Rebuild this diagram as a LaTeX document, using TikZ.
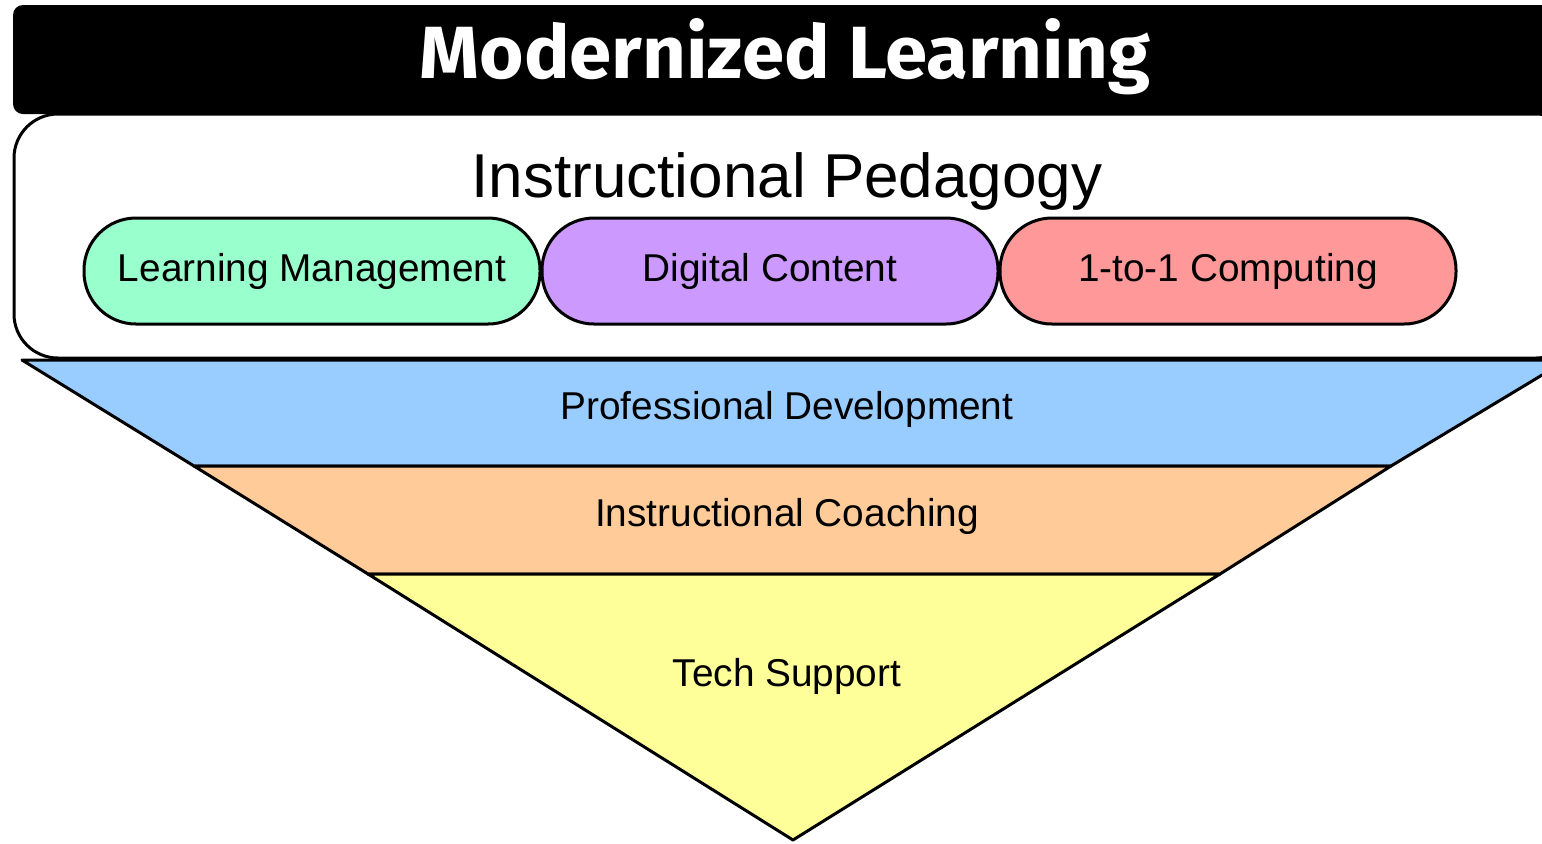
\documentclass[tikz,border=0pt]{standalone}
\usepackage{fontspec}
\setmainfont{Liberation Sans}
\newfontfamily\titlefont{Fira Sans}
\definecolor{lmsgreen}{HTML}{99FFCC}
\definecolor{dcpurple}{HTML}{CC99FF}
\definecolor{onered}{HTML}{FF9999}
\definecolor{pdblue}{HTML}{99CCFF}
\definecolor{icorange}{HTML}{FFCC99}
\definecolor{tsyellow}{HTML}{FFFF99}
\tikzset{
  pill/.style={draw, line width=1.5pt, rounded corners=26pt, minimum width=228pt,
    minimum height=53pt, inner sep=0pt, font=\fontsize{19.4}{22}\selectfont},
  band/.style={draw, line width=1.5pt, line join=round},
  bandtext/.style={font=\fontsize{19.4}{22}\selectfont}
}
\begin{document}
\begin{tikzpicture}[x=0.5pt, y=-0.5pt]
\useasboundingbox (0, 0) rectangle (1542, 843);
\clip (0, 0) rectangle (1542, 843);
\fill [black, rounded corners=5pt] (13, 5) rectangle (1580, 114);
\node [text=white] (title) at (785, 57) {\resizebox{365pt}{30pt}{\titlefont\bfseries Modernized Learning}};
\draw [line width=1.5pt, rounded corners=22pt, fill=white] (14, 114) rectangle (1580, 358);
\node [font=\fontsize{31}{36}\selectfont] (pedagogy) at (787, 181) {Instructional Pedagogy};
\node [pill, fill=lmsgreen] (lms) at (312, 271) {\raisebox{-1.5pt}{Learning Management}};
\node [pill, fill=dcpurple] (content) at (770, 271) {\raisebox{-1.5pt}{Digital Content}};
\node [pill, fill=onered] (computing) at (1228, 271) {\raisebox{-1.5pt}{1-to-1 Computing}};
\draw [band, fill=pdblue] (22, 360) -- (1567, 360) -- (1391, 466) -- (194, 466) -- cycle;
\draw [band, fill=icorange] (194, 466) -- (1391, 466) -- (1220, 574) -- (368, 574) -- cycle;
\draw [band, fill=tsyellow] (368, 574) -- (1220, 574) -- (793, 840) -- cycle;
\node [bandtext] (pd) at (787, 409) {Professional Development};
\node [bandtext] (coaching) at (787, 516) {Instructional Coaching};
\node [bandtext] (support) at (787, 676) {Tech Support};
\end{tikzpicture}
\end{document}
